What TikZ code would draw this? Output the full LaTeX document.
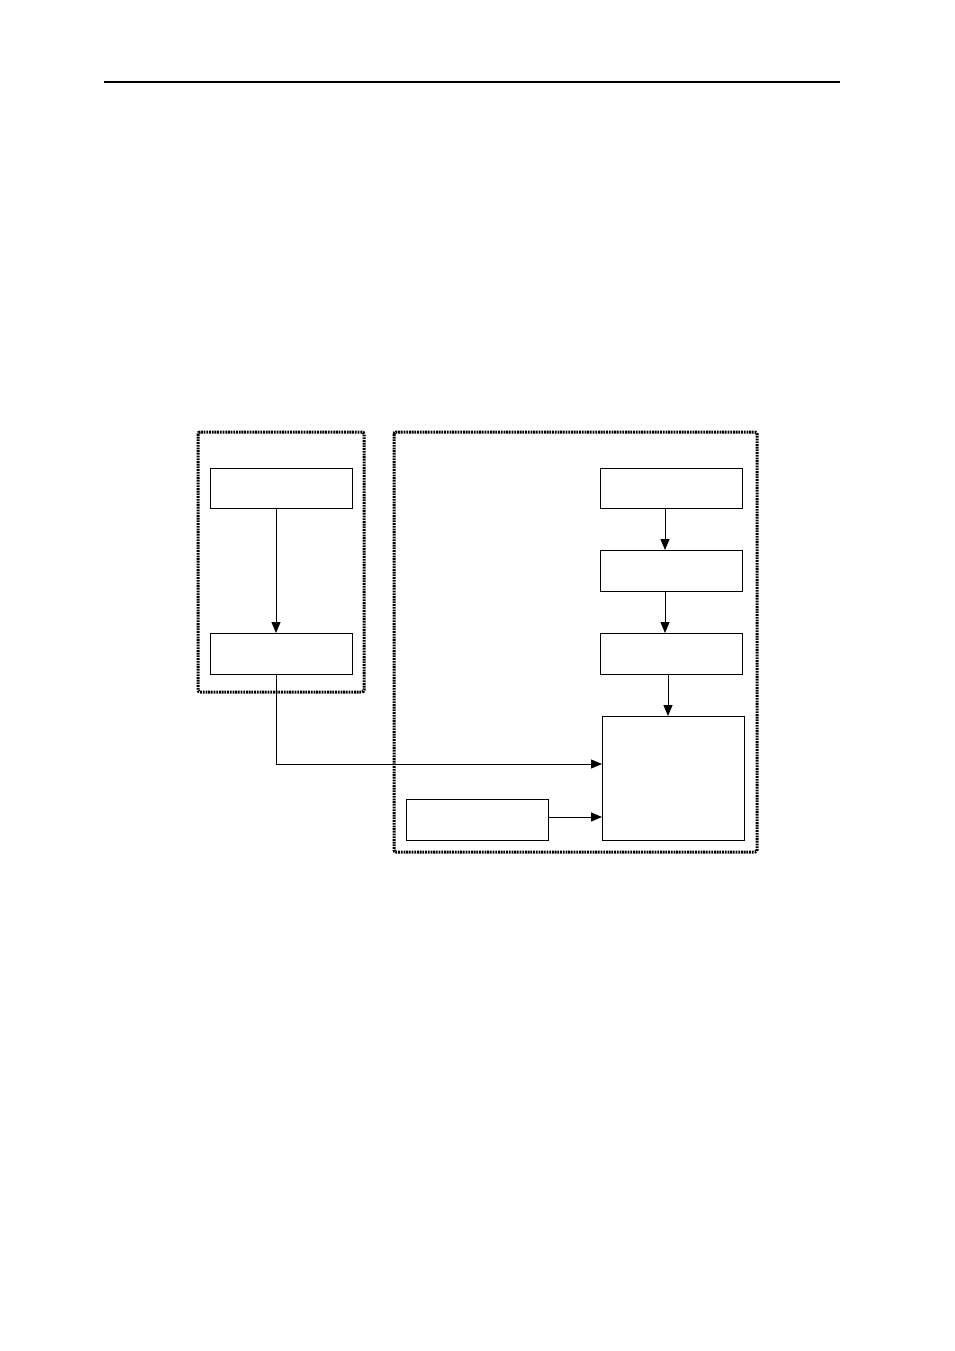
\documentclass[tikz,border=0pt]{standalone}
\usetikzlibrary{arrows.meta}
\begin{document}
\begin{tikzpicture}[x=1pt,y=-1pt,
  blk/.style={draw,line width=1.3pt,inner sep=0pt,anchor=north west},
  grp/.style={draw,line width=3pt,dash pattern=on 1.8pt off 0.9pt,rounded corners=2pt},
  conn/.style={line width=1pt,-{Triangle[length=11pt,width=9pt]}},
  plain/.style={line width=1pt}]
\useasboundingbox (0,0) rectangle (954,1351);
\draw[line width=1.2pt] (104,82) -- (840,82);
% groups
\draw[grp] (198,432) rectangle (364,692);
\draw[grp] (394,432) rectangle (757,852);
% left boxes
\node[blk,minimum width=142pt,minimum height=40pt] (L1) at (210,468) {};
\node[blk,minimum width=142pt,minimum height=41pt] (L2) at (210,633) {};
% right boxes
\node[blk,minimum width=142pt,minimum height=40pt] (R1) at (600,468) {};
\node[blk,minimum width=142pt,minimum height=41pt] (R2) at (600,550) {};
\node[blk,minimum width=142pt,minimum height=41pt] (R3) at (600,633) {};
\node[blk,minimum width=142pt,minimum height=124pt] (R4) at (602,716) {};
\node[blk,minimum width=142pt,minimum height=41pt] (R5) at (406,799) {};
\coordinate (c1) at (276,764);
% connectors
\draw[conn] (L1.south -| 276,0) -- (L2.north -| 276,0);
\draw[conn] (R1.south -| 665,0) -- (R2.north -| 665,0);
\draw[conn] (R2.south -| 665,0) -- (R3.north -| 665,0);
\draw[conn] (R3.south -| 668,0) -- (R4.north -| 668,0);
\draw[conn] (L2.south -| 276,0) -- (c1) -- (c1 -| R4.west);
\draw[conn] (R5.east |- 0,817) -- (R4.west |- 0,817);
\end{tikzpicture}
\end{document}
